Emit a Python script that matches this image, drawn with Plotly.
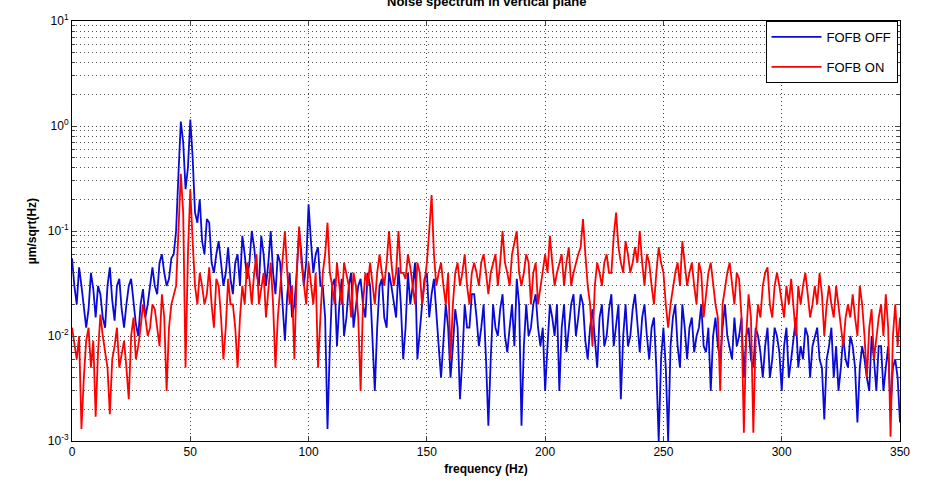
import plotly.graph_objects as go

freq_even = list(range(0, 351, 2))
freq_odd = list(range(1, 350, 2))

fofb_off_even = [
    0.055, 0.02, 0.03, 0.012, 0.04, 0.015, 0.025, 0.012, 0.045, 0.014,
    0.035, 0.012, 0.03, 0.02, 0.01, 0.028, 0.02, 0.045, 0.025, 0.06,
    0.03, 0.055, 0.1, 1.1, 0.25, 1.15, 0.15, 0.2, 0.06, 0.12,
    0.04, 0.08, 0.03, 0.07, 0.025, 0.06, 0.09, 0.035, 0.1, 0.04,
    0.09, 0.03, 0.1, 0.025, 0.05, 0.009, 0.04, 0.02, 0.1, 0.03,
    0.18, 0.04, 0.07, 0.03, 0.0013, 0.03, 0.008, 0.035, 0.015, 0.04,
    0.018, 0.035, 0.015, 0.03, 0.003, 0.03, 0.015, 0.04, 0.02, 0.045,
    0.006, 0.04, 0.03, 0.006, 0.02, 0.04, 0.025, 0.015, 0.004, 0.02,
    0.004, 0.018, 0.0025, 0.02, 0.012, 0.025, 0.008, 0.02, 0.0014, 0.02,
    0.01, 0.025, 0.007, 0.02, 0.035, 0.0014, 0.02, 0.012, 0.025, 0.008,
    0.003, 0.02, 0.01, 0.003, 0.02, 0.012, 0.025, 0.015, 0.02, 0.006,
    0.018, 0.005, 0.02, 0.01, 0.025, 0.012, 0.0025, 0.02, 0.01, 0.025,
    0.007, 0.02, 0.006, 0.015, 0.001, 0.012, 0.001, 0.015, 0.008, 0.02,
    0.006, 0.015, 0.01, 0.02, 0.007, 0.003, 0.015, 0.006, 0.02, 0.008,
    0.015, 0.01, 0.004, 0.012, 0.005, 0.01, 0.004, 0.012, 0.006, 0.01,
    0.003, 0.012, 0.006, 0.015, 0.008, 0.012, 0.004, 0.01, 0.006, 0.0016,
    0.008, 0.004, 0.003, 0.01, 0.005, 0.008, 0.0015, 0.008, 0.004, 0.01,
    0.003, 0.008, 0.005, 0.002, 0.006, 0.0015,
]

fofb_off_odd = [
    0.03, 0.045, 0.02, 0.018, 0.028, 0.03, 0.015, 0.03, 0.022, 0.03,
    0.018, 0.02, 0.035, 0.013, 0.02, 0.015, 0.03, 0.03, 0.05, 0.04,
    0.035, 0.06, 0.35, 0.7, 0.4, 0.5, 0.12, 0.08, 0.13, 0.05,
    0.06, 0.05, 0.04, 0.035, 0.05, 0.03, 0.06, 0.05, 0.07, 0.03,
    0.06, 0.05, 0.04, 0.06, 0.02, 0.025, 0.015, 0.04, 0.06, 0.05,
    0.08, 0.06, 0.03, 0.015, 0.008, 0.035, 0.02, 0.01, 0.03, 0.012,
    0.03, 0.02, 0.04, 0.008, 0.012, 0.035, 0.012, 0.03, 0.015, 0.02,
    0.012, 0.02, 0.05, 0.012, 0.035, 0.015, 0.035, 0.008, 0.01, 0.012,
    0.008, 0.012, 0.006, 0.012, 0.025, 0.015, 0.012, 0.006, 0.006, 0.012,
    0.018, 0.01, 0.012, 0.008, 0.02, 0.008, 0.01, 0.02, 0.012, 0.012,
    0.008, 0.015, 0.02, 0.012, 0.007, 0.02, 0.01, 0.025, 0.009, 0.012,
    0.01, 0.015, 0.008, 0.018, 0.008, 0.02, 0.01, 0.008, 0.018, 0.012,
    0.015, 0.01, 0.012, 0.005, 0.006, 0.005, 0.008, 0.02, 0.005, 0.012,
    0.012, 0.007, 0.012, 0.008, 0.012, 0.01, 0.008, 0.012, 0.01, 0.006,
    0.008, 0.015, 0.01, 0.006, 0.012, 0.007, 0.008, 0.004, 0.012, 0.007,
    0.008, 0.004, 0.01, 0.005, 0.006, 0.01, 0.008, 0.012, 0.005, 0.006,
    0.012, 0.008, 0.005, 0.006, 0.01, 0.005, 0.005, 0.006, 0.003, 0.006,
    0.008, 0.003, 0.008, 0.005, 0.004,
]

fofb_on_even = [
    0.012, 0.006, 0.0013, 0.009, 0.005, 0.0017, 0.016, 0.007, 0.0018, 0.008,
    0.005, 0.009, 0.0025, 0.015, 0.008, 0.02, 0.01, 0.02, 0.012, 0.025,
    0.003, 0.02, 0.03, 0.35, 0.005, 0.25, 0.03, 0.04, 0.02, 0.045,
    0.012, 0.03, 0.006, 0.035, 0.02, 0.005, 0.03, 0.05, 0.02, 0.06,
    0.03, 0.015, 0.05, 0.005, 0.03, 0.1, 0.02, 0.006, 0.11, 0.03,
    0.05, 0.02, 0.005, 0.04, 0.12, 0.03, 0.05, 0.02, 0.04, 0.015,
    0.03, 0.003, 0.04, 0.05, 0.02, 0.06, 0.03, 0.1, 0.03, 0.1,
    0.04, 0.06, 0.03, 0.05, 0.02, 0.05, 0.22, 0.03, 0.05, 0.02,
    0.006, 0.04, 0.03, 0.06, 0.02, 0.05, 0.03, 0.06, 0.025, 0.05,
    0.03, 0.1, 0.04, 0.06, 0.1, 0.03, 0.06, 0.02, 0.05, 0.03,
    0.06, 0.09, 0.03, 0.05, 0.03, 0.07, 0.04, 0.06, 0.13, 0.03,
    0.008, 0.05, 0.03, 0.06, 0.04, 0.15, 0.05, 0.08, 0.04, 0.07,
    0.1, 0.03, 0.05, 0.02, 0.07, 0.04, 0.012, 0.03, 0.05, 0.08,
    0.03, 0.05, 0.02, 0.04, 0.025, 0.05, 0.02, 0.003, 0.03, 0.05,
    0.02, 0.035, 0.0012, 0.025, 0.0012, 0.02, 0.03, 0.045, 0.015, 0.04,
    0.02, 0.03, 0.035, 0.01, 0.02, 0.04, 0.015, 0.03, 0.04, 0.01,
    0.03, 0.015, 0.02, 0.008, 0.02, 0.025, 0.01, 0.02, 0.004, 0.018,
    0.01, 0.02, 0.025, 0.0011, 0.02, 0.015,
]

fofb_on_odd = [
    0.008, 0.01, 0.004, 0.012, 0.009, 0.007, 0.01, 0.005, 0.006, 0.012,
    0.007, 0.005, 0.01, 0.006, 0.012, 0.015, 0.012, 0.018, 0.008, 0.015,
    0.012, 0.025, 0.1, 0.15, 0.06, 0.08, 0.02, 0.03, 0.025, 0.02,
    0.035, 0.015, 0.012, 0.02, 0.012, 0.015, 0.02, 0.035, 0.04, 0.02,
    0.04, 0.03, 0.02, 0.015, 0.06, 0.04, 0.03, 0.04, 0.05, 0.02,
    0.03, 0.04, 0.015, 0.06, 0.04, 0.02, 0.03, 0.05, 0.03, 0.04,
    0.015, 0.02, 0.03, 0.03, 0.04, 0.04, 0.05, 0.05, 0.04, 0.04,
    0.035, 0.045, 0.02, 0.04, 0.03, 0.1, 0.06, 0.04, 0.03, 0.04,
    0.02, 0.05, 0.04, 0.03, 0.04, 0.04, 0.05, 0.04, 0.04, 0.06,
    0.05, 0.05, 0.03, 0.08, 0.04, 0.04, 0.05, 0.04, 0.02, 0.04,
    0.04, 0.05, 0.04, 0.06, 0.05, 0.03, 0.05, 0.07, 0.06, 0.02,
    0.03, 0.04, 0.05, 0.04, 0.09, 0.07, 0.04, 0.06, 0.05, 0.05,
    0.05, 0.06, 0.03, 0.04, 0.05, 0.02, 0.02, 0.04, 0.03, 0.05,
    0.04, 0.03, 0.05, 0.015, 0.04, 0.03, 0.015, 0.02, 0.04, 0.03,
    0.04, 0.015, 0.01, 0.015, 0.01, 0.015, 0.04, 0.02, 0.03, 0.03,
    0.015, 0.02, 0.02, 0.03, 0.03, 0.025, 0.02, 0.02, 0.025, 0.02,
    0.02, 0.03, 0.012, 0.015, 0.015, 0.015, 0.03, 0.01, 0.012, 0.006,
    0.015, 0.01, 0.012, 0.01, 0.008,
]

series_names = ["FOFB OFF", "FOFB ON"]
x_ticks = [0, 50, 100, 150, 200, 250, 300, 350]
y_ticks = [1e-3, 1e-2, 1e-1, 1e0, 1e1]
y_ticktext = ["10<sup>-3</sup>", "10<sup>-2</sup>", "10<sup>-1</sup>", "10<sup>0</sup>", "10<sup>1</sup>"]
y_minor = [m * 10 ** e for e in range(-3, 1) for m in range(2, 10)]


def merge(fe, ve, fo, vo):
    pts = sorted(list(zip(fe, ve)) + list(zip(fo, vo)))
    return [p[0] for p in pts], [p[1] for p in pts]


f_off, v_off = merge(freq_even, fofb_off_even, freq_odd, fofb_off_odd)
f_on, v_on = merge(freq_even, fofb_on_even, freq_odd, fofb_on_odd)

font_family = "Arial, Liberation Sans, sans-serif"
grid_dash = "1px,3px"

fig = go.Figure()
fig.add_trace(go.Scatter(x=f_off, y=v_off, mode="lines", name=series_names[0],
                         line=dict(color="#0a0ad8", width=1.8), legendgroup="a"))
fig.add_trace(go.Scatter(x=f_on, y=v_on, mode="lines", name=series_names[1],
                         line=dict(color="#ff0000", width=1.8), legendgroup="b"))

fig.update_layout(
    width=935, height=493,
    margin=dict(l=72, r=35, t=14, b=52),
    paper_bgcolor="white", plot_bgcolor="white",
    font=dict(family=font_family, size=12, color="black"),
    showlegend=True,
    legend=dict(x=0.997, y=1.0, xanchor="right", yanchor="top",
                bgcolor="white", bordercolor="black", borderwidth=1,
                font=dict(size=13), tracegroupgap=10, itemwidth=50),
    annotations=[dict(text="<b>Noise spectrum in vertical plane</b>", xref="paper", yref="paper",
                      x=0.5, y=1.024, xanchor="center", yanchor="bottom", showarrow=False,
                      font=dict(size=13, family=font_family))],
)

fig.update_xaxes(
    range=[0, 350], tickvals=x_ticks, ticks="inside", ticklen=5,
    showline=True, linecolor="black", linewidth=1, mirror="ticks",
    showgrid=True, gridcolor="#444444", griddash=grid_dash, gridwidth=1,
    zeroline=False,
    title=dict(text="<b>frequency (Hz)</b>", standoff=6, font=dict(size=12)),
)
fig.update_yaxes(
    type="log", range=[-3, 1], tickvals=y_ticks, ticktext=y_ticktext,
    ticks="inside", ticklen=5,
    showline=True, linecolor="black", linewidth=1, mirror="ticks",
    showgrid=True, gridcolor="#444444", griddash=grid_dash, gridwidth=1,
    zeroline=False,
    minor=dict(tickvals=y_minor, ticks="inside", ticklen=3, showgrid=True,
               gridcolor="#555555", griddash=grid_dash, gridwidth=1),
    title=dict(text="<b>µm/sqrt(Hz)</b>", standoff=8, font=dict(size=12)),
)

fig.write_html("out.html")
